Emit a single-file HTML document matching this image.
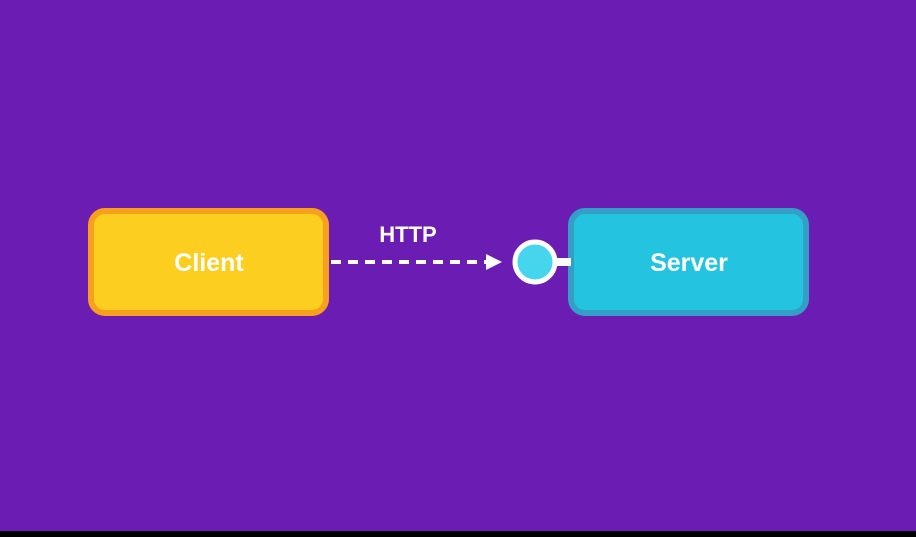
<!DOCTYPE html>
<html><head><style>
body{margin:0;width:916px;height:537px;background:#000;overflow:hidden}
</style></head><body>
<svg width="916" height="537" xmlns="http://www.w3.org/2000/svg" style="display:block">
<rect x="0" y="0" width="916" height="531" fill="#6B1CB3"/>
<rect x="91" y="211" width="235" height="102" rx="14" fill="#FBCE1F" stroke="#F99F1E" stroke-width="6"/>
<rect x="571" y="211" width="235" height="102" rx="14" fill="#24C4E0" stroke="#339FC6" stroke-width="6"/>
<text x="209" y="271" font-family="Liberation Sans, sans-serif" font-weight="bold" font-size="25" fill="#fff" text-anchor="middle">Client</text>
<text x="689" y="271" font-family="Liberation Sans, sans-serif" font-weight="bold" font-size="25" fill="#fff" text-anchor="middle">Server</text>
<text x="408" y="242" font-family="Liberation Sans, sans-serif" font-weight="bold" font-size="22" fill="#fff" text-anchor="middle">HTTP</text>
<line x1="331" y1="262" x2="486" y2="262" stroke="#fff" stroke-width="4" stroke-dasharray="10,7"/>
<polygon points="486,254 502,262 486,270" fill="#fff"/>
<rect x="555" y="258" width="16" height="8" fill="#fff"/>
<circle cx="535" cy="262" r="20" fill="#45D6EE" stroke="#fff" stroke-width="5"/>
</svg>
</body></html>
